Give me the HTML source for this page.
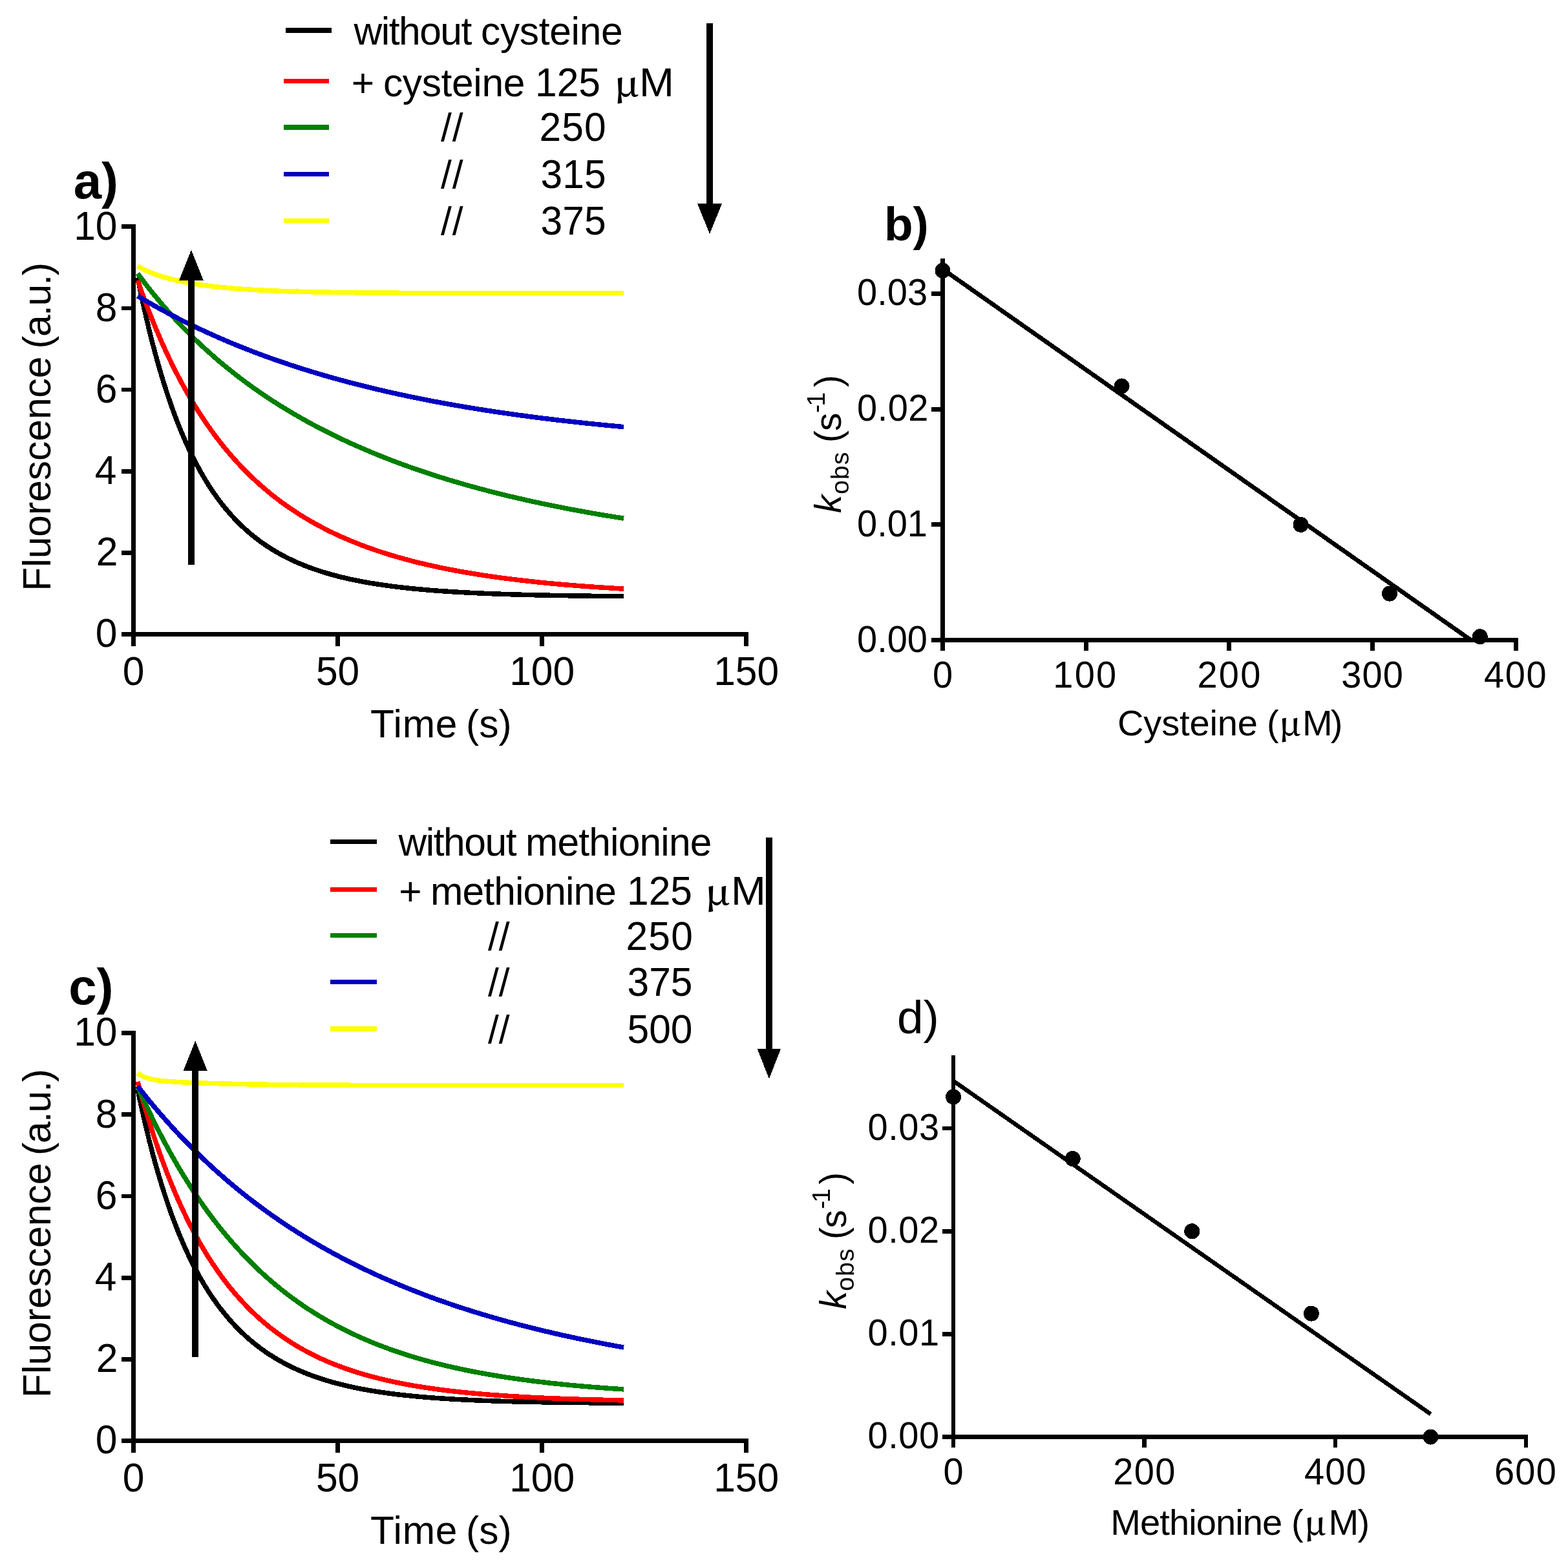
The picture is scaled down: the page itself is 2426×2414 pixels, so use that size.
<!DOCTYPE html>
<html lang="en"><head><meta charset="utf-8"><title>Fluorescence decay kinetics with cysteine and methionine</title>
<style>html,body{margin:0;padding:0;background:#fff}body{width:2426px;height:2414px;overflow:hidden}svg{display:block;shape-rendering:crispEdges}text{font-family:"Liberation Sans", sans-serif;fill:#000;white-space:pre}text.sym{font-family:"Noto Serif CJK SC","Liberation Serif",serif}</style>
</head><body>
<svg width="2426" height="2414" viewBox="0 0 2426 2414" role="img" aria-label="Fluorescence decay kinetics and observed rate constants for cysteine and methionine">
<rect width="2426" height="2414" fill="#fff"/>
<g id="panel-a">
<path d="M212.92 429.38 L213.48 432.18 L214.62 437.81 L216.18 445.37 L218.08 454.45 L220.3 464.77 L222.79 476.11 L225.56 488.29 L228.57 501.15 L231.81 514.54 L235.28 528.34 L238.96 542.43 L242.85 556.71 L246.94 571.09 L251.23 585.49 L255.7 599.82 L260.35 614.03 L265.18 628.06 L270.19 641.85 L275.36 655.37 L280.7 668.58 L286.21 681.44 L291.87 693.93 L297.69 706.03 L303.66 717.72 L309.79 729 L316.06 739.85 L322.48 750.26 L329.05 760.25 L335.75 769.8 L342.6 778.93 L349.58 787.64 L356.71 795.92 L363.96 803.81 L371.35 811.29 L378.87 818.39 L386.52 825.12 L394.3 831.48 L402.21 837.5 L410.24 843.18 L418.4 848.54 L426.68 853.59 L435.08 858.34 L443.61 862.81 L452.25 867.02 L461.01 870.96 L469.89 874.67 L478.89 878.14 L488 881.39 L497.23 884.44 L506.57 887.29 L516.02 889.95 L525.59 892.44 L535.26 894.76 L545.05 896.93 L554.94 898.95 L564.95 900.84 L575.06 902.59 L585.28 904.22 L595.6 905.74 L606.03 907.15 L616.57 908.46 L627.21 909.67 L637.95 910.8 L648.8 911.85 L659.74 912.82 L670.79 913.71 L681.94 914.54 L693.2 915.31 L704.55 916.02 L716 916.67 L727.54 917.27 L739.19 917.83 L750.93 918.34 L762.77 918.82 L774.71 919.25 L786.74 919.65 L798.87 920.02 L811.09 920.36 L823.41 920.67 L835.82 920.95 L848.33 921.21 L860.92 921.45 L873.61 921.67 L886.4 921.87 L899.27 922.05 L912.24 922.22 L925.29 922.37 L938.44 922.51 L951.67 922.64 L965 922.75" fill="none" stroke="#000" stroke-width="7.5" stroke-linejoin="round"/>
<path d="M212.92 433.94 L213.48 435.56 L214.62 438.84 L216.18 443.26 L218.08 448.62 L220.3 454.76 L222.79 461.58 L225.56 468.98 L228.57 476.9 L231.81 485.25 L235.28 493.99 L238.96 503.05 L242.85 512.38 L246.94 521.93 L251.23 531.67 L255.7 541.54 L260.35 551.51 L265.18 561.55 L270.19 571.63 L275.36 581.71 L280.7 591.77 L286.21 601.79 L291.87 611.73 L297.69 621.59 L303.66 631.34 L309.79 640.97 L316.06 650.45 L322.48 659.79 L329.05 668.96 L335.75 677.96 L342.6 686.77 L349.58 695.4 L356.71 703.83 L363.96 712.06 L371.35 720.09 L378.87 727.91 L386.52 735.52 L394.3 742.92 L402.21 750.1 L410.24 757.08 L418.4 763.85 L426.68 770.4 L435.08 776.75 L443.61 782.9 L452.25 788.84 L461.01 794.58 L469.89 800.12 L478.89 805.47 L488 810.64 L497.23 815.61 L506.57 820.41 L516.02 825.03 L525.59 829.48 L535.26 833.75 L545.05 837.87 L554.94 841.82 L564.95 845.62 L575.06 849.27 L585.28 852.78 L595.6 856.14 L606.03 859.36 L616.57 862.45 L627.21 865.42 L637.95 868.26 L648.8 870.98 L659.74 873.58 L670.79 876.07 L681.94 878.45 L693.2 880.73 L704.55 882.91 L716 884.99 L727.54 886.98 L739.19 888.88 L750.93 890.69 L762.77 892.42 L774.71 894.07 L786.74 895.64 L798.87 897.14 L811.09 898.57 L823.41 899.93 L835.82 901.23 L848.33 902.46 L860.92 903.63 L873.61 904.75 L886.4 905.81 L899.27 906.82 L912.24 907.77 L925.29 908.68 L938.44 909.55 L951.67 910.37 L965 911.14" fill="none" stroke="#FF0000" stroke-width="7.5" stroke-linejoin="round"/>
<path d="M212.92 423.23 L213.48 423.99 L214.62 425.53 L216.18 427.62 L218.08 430.17 L220.3 433.1 L222.79 436.38 L225.56 439.97 L228.57 443.83 L231.81 447.95 L235.28 452.28 L238.96 456.83 L242.85 461.55 L246.94 466.44 L251.23 471.48 L255.7 476.66 L260.35 481.95 L265.18 487.34 L270.19 492.82 L275.36 498.39 L280.7 504.02 L286.21 509.7 L291.87 515.43 L297.69 521.2 L303.66 526.99 L309.79 532.81 L316.06 538.63 L322.48 544.46 L329.05 550.29 L335.75 556.1 L342.6 561.91 L349.58 567.69 L356.71 573.44 L363.96 579.17 L371.35 584.86 L378.87 590.51 L386.52 596.11 L394.3 601.68 L402.21 607.19 L410.24 612.65 L418.4 618.06 L426.68 623.4 L435.08 628.69 L443.61 633.92 L452.25 639.09 L461.01 644.19 L469.89 649.23 L478.89 654.2 L488 659.1 L497.23 663.93 L506.57 668.69 L516.02 673.38 L525.59 678 L535.26 682.55 L545.05 687.03 L554.94 691.44 L564.95 695.77 L575.06 700.03 L585.28 704.22 L595.6 708.33 L606.03 712.38 L616.57 716.35 L627.21 720.25 L637.95 724.07 L648.8 727.83 L659.74 731.51 L670.79 735.13 L681.94 738.67 L693.2 742.14 L704.55 745.55 L716 748.88 L727.54 752.15 L739.19 755.35 L750.93 758.48 L762.77 761.55 L774.71 764.55 L786.74 767.48 L798.87 770.35 L811.09 773.16 L823.41 775.9 L835.82 778.58 L848.33 781.2 L860.92 783.76 L873.61 786.26 L886.4 788.69 L899.27 791.08 L912.24 793.4 L925.29 795.67 L938.44 797.88 L951.67 800.03 L965 802.13" fill="none" stroke="#008000" stroke-width="7.5" stroke-linejoin="round"/>
<path d="M212.92 458.1 L213.48 458.44 L214.62 459.11 L216.18 460.04 L218.08 461.16 L220.3 462.47 L222.79 463.93 L225.56 465.53 L228.57 467.27 L231.81 469.12 L235.28 471.09 L238.96 473.16 L242.85 475.33 L246.94 477.59 L251.23 479.92 L255.7 482.34 L260.35 484.82 L265.18 487.37 L270.19 489.98 L275.36 492.64 L280.7 495.35 L286.21 498.11 L291.87 500.9 L297.69 503.74 L303.66 506.6 L309.79 509.5 L316.06 512.42 L322.48 515.36 L329.05 518.31 L335.75 521.29 L342.6 524.27 L349.58 527.26 L356.71 530.26 L363.96 533.26 L371.35 536.25 L378.87 539.25 L386.52 542.24 L394.3 545.22 L402.21 548.19 L410.24 551.15 L418.4 554.1 L426.68 557.03 L435.08 559.94 L443.61 562.83 L452.25 565.7 L461.01 568.55 L469.89 571.37 L478.89 574.16 L488 576.93 L497.23 579.67 L506.57 582.38 L516.02 585.06 L525.59 587.71 L535.26 590.32 L545.05 592.9 L554.94 595.45 L564.95 597.96 L575.06 600.43 L585.28 602.87 L595.6 605.27 L606.03 607.63 L616.57 609.96 L627.21 612.24 L637.95 614.49 L648.8 616.7 L659.74 618.87 L670.79 621 L681.94 623.09 L693.2 625.14 L704.55 627.15 L716 629.13 L727.54 631.06 L739.19 632.95 L750.93 634.81 L762.77 636.63 L774.71 638.4 L786.74 640.14 L798.87 641.84 L811.09 643.5 L823.41 645.13 L835.82 646.71 L848.33 648.26 L860.92 649.78 L873.61 651.25 L886.4 652.7 L899.27 654.1 L912.24 655.47 L925.29 656.81 L938.44 658.11 L951.67 659.38 L965 660.61" fill="none" stroke="#0000C0" stroke-width="7.5" stroke-linejoin="round"/>
<path d="M212.92 411.7 L213.48 412.03 L214.62 412.7 L216.18 413.58 L218.08 414.63 L220.3 415.8 L222.79 417.06 L225.56 418.39 L228.57 419.76 L231.81 421.16 L235.28 422.58 L238.96 423.99 L242.85 425.39 L246.94 426.78 L251.23 428.14 L255.7 429.47 L260.35 430.77 L265.18 432.03 L270.19 433.25 L275.36 434.43 L280.7 435.57 L286.21 436.67 L291.87 437.72 L297.69 438.73 L303.66 439.7 L309.79 440.62 L316.06 441.5 L322.48 442.34 L329.05 443.13 L335.75 443.88 L342.6 444.59 L349.58 445.27 L356.71 445.9 L363.96 446.5 L371.35 447.06 L378.87 447.58 L386.52 448.07 L394.3 448.53 L402.21 448.96 L410.24 449.36 L418.4 449.73 L426.68 450.07 L435.08 450.39 L443.61 450.69 L452.25 450.96 L461.01 451.21 L469.89 451.44 L478.89 451.66 L488 451.85 L497.23 452.03 L506.57 452.19 L516.02 452.34 L525.59 452.48 L535.26 452.6 L545.05 452.72 L554.94 452.82 L564.95 452.91 L575.06 453 L585.28 453.07 L595.6 453.14 L606.03 453.2 L616.57 453.26 L627.21 453.31 L637.95 453.35 L648.8 453.4 L659.74 453.43 L670.79 453.46 L681.94 453.49 L693.2 453.52 L704.55 453.54 L716 453.56 L727.54 453.58 L739.19 453.6 L750.93 453.61 L762.77 453.63 L774.71 453.64 L786.74 453.65 L798.87 453.66 L811.09 453.66 L823.41 453.67 L835.82 453.68 L848.33 453.68 L860.92 453.69 L873.61 453.69 L886.4 453.7 L899.27 453.7 L912.24 453.7 L925.29 453.7 L938.44 453.71 L951.67 453.71 L965 453.71" fill="none" stroke="#FFFF00" stroke-width="7.5" stroke-linejoin="round"/>
<rect x="203.2" y="347.4" width="6.8" height="652.5" fill="#000"/>
<rect x="188.1" y="978" width="969.9" height="6.8" fill="#000"/>
<rect x="188.1" y="851.88" width="18.5" height="6.8" fill="#000"/>
<rect x="188.1" y="725.76" width="18.5" height="6.8" fill="#000"/>
<rect x="188.1" y="599.64" width="18.5" height="6.8" fill="#000"/>
<rect x="188.1" y="473.52" width="18.5" height="6.8" fill="#000"/>
<rect x="188.1" y="347.4" width="18.5" height="6.8" fill="#000"/>
<rect x="519.2" y="981.4" width="6.8" height="18.5" fill="#000"/>
<rect x="835.2" y="981.4" width="6.8" height="18.5" fill="#000"/>
<rect x="1151.2" y="981.4" width="6.8" height="18.5" fill="#000"/>
<text id="a-yt0" font-size="60.5" text-anchor="end" transform="translate(181.5 1001.2) scale(1 1.04)">0</text>
<text id="a-yt2" font-size="60.5" text-anchor="end" transform="translate(182.5 875.08) scale(1 1.04)">2</text>
<text id="a-yt4" font-size="60.5" text-anchor="end" transform="translate(180.5 748.96) scale(1 1.04)">4</text>
<text id="a-yt6" font-size="60.5" text-anchor="end" transform="translate(181.5 622.84) scale(1 1.04)">6</text>
<text id="a-yt8" font-size="60.5" text-anchor="end" transform="translate(181.5 496.72) scale(1 1.04)">8</text>
<text id="a-yt10" font-size="60.5" text-anchor="end" transform="translate(181.5 370.6) scale(1 1.04)">10</text>
<text id="a-xt0" font-size="60.5" text-anchor="middle" transform="translate(206.6 1060.2) scale(1 1.04)">0</text>
<text id="a-xt50" font-size="60.5" text-anchor="middle" transform="translate(522.6 1060.2) scale(1 1.04)">50</text>
<text id="a-xt100" font-size="60.5" text-anchor="middle" transform="translate(838.6 1060.2) scale(1 1.04)">100</text>
<text id="a-xt150" font-size="60.5" text-anchor="middle" transform="translate(1154.6 1060.2) scale(1 1.04)">150</text>
<text id="a-xtitle" font-size="60.5" textLength="134.5" lengthAdjust="spacing" x="573" y="1140.9">Time</text>
<text id="a-xtitle2" font-size="60.5" x="721.1" y="1140.9">(s)</text>
<text id="a-ytitle" font-size="60.5" transform="translate(78 914.7) rotate(-90)">Fluorescence</text>
<text id="a-ytitle2" font-size="60.5" textLength="133.72" lengthAdjust="spacing" transform="translate(78 539.7) rotate(-90)">(a.u.)</text>
<text id="a-label" font-size="78" font-weight="bold" x="113.7" y="307.2">a)</text>
<path d="M290.9 873.9 L290.9 433.5 L277.15 433.5 L295.9 386.7 L314.65 433.5 L300.9 433.5 L300.9 873.9 Z" fill="#000"/>
<path d="M1093 35.8 L1093 315.3 L1079.15 315.3 L1098 362.1 L1116.85 315.3 L1103 315.3 L1103 35.8 Z" fill="#000"/>
<rect x="442.2" y="43" width="70.8" height="8" fill="#000"/>
<rect x="439.1" y="122" width="70" height="7" fill="#FF0000"/>
<rect x="439.1" y="193.25" width="70" height="7.5" fill="#008000"/>
<rect x="439.1" y="265.9" width="70" height="7" fill="#0000C0"/>
<rect x="439.1" y="338.1" width="70" height="7" fill="#FFFF00"/>
<text id="a-leg1w0" font-size="60.5" textLength="182.8" lengthAdjust="spacing" x="547.5" y="68.7">without</text>
<text id="a-leg1w1" font-size="60.5" textLength="219.65" lengthAdjust="spacing" x="744" y="68.7">cysteine</text>
<text id="a-leg2w0" font-size="60.5" x="543.8" y="149">+</text>
<text id="a-leg2w1" font-size="60.5" textLength="219.35" lengthAdjust="spacing" x="593" y="149">cysteine</text>
<text id="a-leg2w2" font-size="60.5" transform="translate(828 149) scale(1 1.04)">125</text>
<text id="a-mu" font-size="53.5" class="sym" font-weight="600" transform="translate(950.3 149) scale(1.12 1)">µ</text>
<text id="a-M" font-size="60.5" transform="translate(989 149) scale(1.07 1.04)">M</text>
<text id="a-sl0" font-size="60.5" textLength="34.62" lengthAdjust="spacing" x="682" y="217.7">//</text>
<text id="a-num0" font-size="60.5" textLength="103.35" lengthAdjust="spacing" transform="translate(834.4 217.7) scale(1 1.04)">250</text>
<text id="a-sl1" font-size="60.5" textLength="34.62" lengthAdjust="spacing" x="682" y="290.5">//</text>
<text id="a-num1" font-size="60.5" transform="translate(836.6 290.5) scale(1 1.04)">315</text>
<text id="a-sl2" font-size="60.5" textLength="34.62" lengthAdjust="spacing" x="682" y="362.7">//</text>
<text id="a-num2" font-size="60.5" transform="translate(836.6 362.7) scale(1 1.04)">375</text>
</g>
<g id="panel-b">
<rect x="1455.05" y="400.1" width="6.9" height="606.9" fill="#000"/>
<rect x="1441.1" y="987.15" width="907.45" height="6.9" fill="#000"/>
<rect x="1441.1" y="808.45" width="17.4" height="6.9" fill="#000"/>
<rect x="1441.1" y="629.75" width="17.4" height="6.9" fill="#000"/>
<rect x="1441.1" y="451.05" width="17.4" height="6.9" fill="#000"/>
<rect x="1676.7" y="990.6" width="6.9" height="16.4" fill="#000"/>
<rect x="1898.35" y="990.6" width="6.9" height="16.4" fill="#000"/>
<rect x="2120" y="990.6" width="6.9" height="16.4" fill="#000"/>
<rect x="2341.65" y="990.6" width="6.9" height="16.4" fill="#000"/>
<clipPath id="clip-b"><rect x="0" y="0" width="2426" height="994.05"/></clipPath>
<line clip-path="url(#clip-b)" x1="1458.5" y1="416.44" x2="2289.69" y2="1000.25" stroke="#000" stroke-width="6.8"/>
<circle cx="1458.5" cy="418.76" r="12" fill="#000"/>
<circle cx="1735.56" cy="597.46" r="12" fill="#000"/>
<circle cx="2012.62" cy="811.9" r="12" fill="#000"/>
<circle cx="2150.05" cy="918.58" r="12" fill="#000"/>
<circle cx="2289.69" cy="985.24" r="12" fill="#000"/>
<text id="b-yt0" font-size="56" transform="translate(1326 1008.5) scale(1 1.025)">0.00</text>
<text id="b-yt1" font-size="56" transform="translate(1326 829.8) scale(1 1.025)">0.01</text>
<text id="b-yt2" font-size="56" textLength="110.47" lengthAdjust="spacing" transform="translate(1326 651.1) scale(1 1.025)">0.02</text>
<text id="b-yt3" font-size="56" textLength="109.17" lengthAdjust="spacing" transform="translate(1326 472.4) scale(1 1.025)">0.03</text>
<text id="b-xt0" font-size="56" text-anchor="middle" transform="translate(1458.5 1063.7) scale(1 1.025)">0</text>
<text id="b-xt100" font-size="56" text-anchor="middle" textLength="97.92" lengthAdjust="spacing" transform="translate(1678.25 1063.7) scale(1 1.025)">100</text>
<text id="b-xt200" font-size="56" text-anchor="middle" textLength="97.92" lengthAdjust="spacing" transform="translate(1901.4 1063.7) scale(1 1.025)">200</text>
<text id="b-xt300" font-size="56" text-anchor="middle" textLength="95.52" lengthAdjust="spacing" transform="translate(2123.05 1063.7) scale(1 1.025)">300</text>
<text id="b-xt400" font-size="56" text-anchor="middle" textLength="96.62" lengthAdjust="spacing" transform="translate(2344.3 1063.7) scale(1 1.025)">400</text>
<text id="b-xtitle" font-size="56" textLength="216.97" lengthAdjust="spacing" x="1729" y="1138.3">Cysteine</text>
<text id="b-xtitle1" font-size="56" x="1960" y="1138.3">(</text>
<text id="b-mu" font-size="49.5" class="sym" font-weight="600" transform="translate(1979 1138.3) scale(1.06 1)">µ</text>
<text id="b-xtitle2" font-size="56" textLength="62.6" lengthAdjust="spacing" x="2014.9" y="1138.3">M)</text>
<text id="b-k" font-size="56.5" font-style="italic" transform="translate(1301.2 794) rotate(-90)">k</text>
<text id="b-obs" font-size="39.5" textLength="65.49" lengthAdjust="spacing" transform="translate(1313 765) rotate(-90)">obs</text>
<text id="b-par" font-size="56.5" textLength="46.08" lengthAdjust="spacing" transform="translate(1301.2 684.9) rotate(-90)">(s</text>
<text id="b-sup" font-size="39.5" textLength="32.22" lengthAdjust="spacing" transform="translate(1275.9 639) rotate(-90)">-1</text>
<text id="b-par2" font-size="56.5" transform="translate(1301.2 599.1) rotate(-90)">)</text>
<text id="b-label" font-size="73" font-weight="bold" x="1368" y="372">b)</text>
</g>
<g id="panel-c">
<path d="M212.92 1685.2 L213.48 1687.93 L214.62 1693.43 L216.18 1700.82 L218.08 1709.68 L220.3 1719.75 L222.79 1730.81 L225.56 1742.68 L228.57 1755.2 L231.81 1768.23 L235.28 1781.66 L238.96 1795.36 L242.85 1809.25 L246.94 1823.23 L251.23 1837.23 L255.7 1851.17 L260.35 1864.99 L265.18 1878.64 L270.19 1892.08 L275.36 1905.26 L280.7 1918.15 L286.21 1930.72 L291.87 1942.94 L297.69 1954.8 L303.66 1966.29 L309.79 1977.38 L316.06 1988.08 L322.48 1998.38 L329.05 2008.27 L335.75 2017.76 L342.6 2026.84 L349.58 2035.53 L356.71 2043.82 L363.96 2051.73 L371.35 2059.25 L378.87 2066.41 L386.52 2073.2 L394.3 2079.65 L402.21 2085.75 L410.24 2091.53 L418.4 2096.98 L426.68 2102.13 L435.08 2106.99 L443.61 2111.56 L452.25 2115.86 L461.01 2119.9 L469.89 2123.7 L478.89 2127.25 L488 2130.59 L497.23 2133.7 L506.57 2136.62 L516.02 2139.34 L525.59 2141.87 L535.26 2144.24 L545.05 2146.44 L554.94 2148.48 L564.95 2150.38 L575.06 2152.15 L585.28 2153.78 L595.6 2155.3 L606.03 2156.7 L616.57 2157.99 L627.21 2159.19 L637.95 2160.29 L648.8 2161.31 L659.74 2162.24 L670.79 2163.1 L681.94 2163.9 L693.2 2164.62 L704.55 2165.29 L716 2165.9 L727.54 2166.46 L739.19 2166.97 L750.93 2167.44 L762.77 2167.86 L774.71 2168.25 L786.74 2168.61 L798.87 2168.93 L811.09 2169.22 L823.41 2169.49 L835.82 2169.73 L848.33 2169.95 L860.92 2170.15 L873.61 2170.33 L886.4 2170.5 L899.27 2170.64 L912.24 2170.78 L925.29 2170.9 L938.44 2171.01 L951.67 2171.11 L965 2171.19" fill="none" stroke="#000" stroke-width="7.5" stroke-linejoin="round"/>
<path d="M212.92 1673.68 L213.48 1675.76 L214.62 1679.96 L216.18 1685.62 L218.08 1692.45 L220.3 1700.26 L222.79 1708.9 L225.56 1718.26 L228.57 1728.22 L231.81 1738.68 L235.28 1749.58 L238.96 1760.82 L242.85 1772.34 L246.94 1784.07 L251.23 1795.95 L255.7 1807.94 L260.35 1819.97 L265.18 1832.01 L270.19 1844.02 L275.36 1855.95 L280.7 1867.78 L286.21 1879.47 L291.87 1891 L297.69 1902.34 L303.66 1913.48 L309.79 1924.38 L316.06 1935.05 L322.48 1945.46 L329.05 1955.6 L335.75 1965.47 L342.6 1975.05 L349.58 1984.34 L356.71 1993.34 L363.96 2002.05 L371.35 2010.45 L378.87 2018.56 L386.52 2026.37 L394.3 2033.88 L402.21 2041.11 L410.24 2048.04 L418.4 2054.69 L426.68 2061.06 L435.08 2067.15 L443.61 2072.97 L452.25 2078.53 L461.01 2083.84 L469.89 2088.9 L478.89 2093.71 L488 2098.29 L497.23 2102.64 L506.57 2106.77 L516.02 2110.69 L525.59 2114.41 L535.26 2117.93 L545.05 2121.26 L554.94 2124.4 L564.95 2127.38 L575.06 2130.18 L585.28 2132.82 L595.6 2135.32 L606.03 2137.66 L616.57 2139.87 L627.21 2141.94 L637.95 2143.89 L648.8 2145.72 L659.74 2147.43 L670.79 2149.04 L681.94 2150.54 L693.2 2151.95 L704.55 2153.26 L716 2154.49 L727.54 2155.63 L739.19 2156.7 L750.93 2157.7 L762.77 2158.63 L774.71 2159.49 L786.74 2160.29 L798.87 2161.04 L811.09 2161.73 L823.41 2162.37 L835.82 2162.97 L848.33 2163.52 L860.92 2164.03 L873.61 2164.51 L886.4 2164.94 L899.27 2165.35 L912.24 2165.72 L925.29 2166.07 L938.44 2166.38 L951.67 2166.68 L965 2166.95" fill="none" stroke="#FF0000" stroke-width="7.5" stroke-linejoin="round"/>
<path d="M212.92 1680.91 L213.48 1682.19 L214.62 1684.79 L216.18 1688.31 L218.08 1692.59 L220.3 1697.51 L222.79 1703.01 L225.56 1709 L228.57 1715.45 L231.81 1722.3 L235.28 1729.5 L238.96 1737.03 L242.85 1744.83 L246.94 1752.88 L251.23 1761.14 L255.7 1769.59 L260.35 1778.2 L265.18 1786.93 L270.19 1795.77 L275.36 1804.69 L280.7 1813.68 L286.21 1822.7 L291.87 1831.73 L297.69 1840.77 L303.66 1849.79 L309.79 1858.78 L316.06 1867.72 L322.48 1876.6 L329.05 1885.4 L335.75 1894.11 L342.6 1902.73 L349.58 1911.23 L356.71 1919.62 L363.96 1927.87 L371.35 1935.99 L378.87 1943.97 L386.52 1951.8 L394.3 1959.48 L402.21 1966.99 L410.24 1974.34 L418.4 1981.53 L426.68 1988.54 L435.08 1995.38 L443.61 2002.05 L452.25 2008.53 L461.01 2014.85 L469.89 2020.98 L478.89 2026.94 L488 2032.72 L497.23 2038.32 L506.57 2043.75 L516.02 2049 L525.59 2054.08 L535.26 2059 L545.05 2063.74 L554.94 2068.31 L564.95 2072.73 L575.06 2076.98 L585.28 2081.08 L595.6 2085.02 L606.03 2088.81 L616.57 2092.45 L627.21 2095.95 L637.95 2099.31 L648.8 2102.53 L659.74 2105.61 L670.79 2108.57 L681.94 2111.4 L693.2 2114.11 L704.55 2116.7 L716 2119.17 L727.54 2121.54 L739.19 2123.79 L750.93 2125.94 L762.77 2127.99 L774.71 2129.95 L786.74 2131.81 L798.87 2133.58 L811.09 2135.27 L823.41 2136.87 L835.82 2138.39 L848.33 2139.84 L860.92 2141.21 L873.61 2142.51 L886.4 2143.75 L899.27 2144.92 L912.24 2146.02 L925.29 2147.07 L938.44 2148.06 L951.67 2149 L965 2149.89" fill="none" stroke="#008000" stroke-width="7.5" stroke-linejoin="round"/>
<path d="M212.92 1680.86 L213.48 1681.58 L214.62 1683.04 L216.18 1685.02 L218.08 1687.43 L220.3 1690.22 L222.79 1693.34 L225.56 1696.76 L228.57 1700.47 L231.81 1704.42 L235.28 1708.6 L238.96 1713 L242.85 1717.59 L246.94 1722.36 L251.23 1727.29 L255.7 1732.37 L260.35 1737.59 L265.18 1742.94 L270.19 1748.39 L275.36 1753.95 L280.7 1759.6 L286.21 1765.33 L291.87 1771.13 L297.69 1776.99 L303.66 1782.9 L309.79 1788.86 L316.06 1794.86 L322.48 1800.88 L329.05 1806.93 L335.75 1812.99 L342.6 1819.05 L349.58 1825.12 L356.71 1831.19 L363.96 1837.24 L371.35 1843.28 L378.87 1849.3 L386.52 1855.3 L394.3 1861.26 L402.21 1867.19 L410.24 1873.08 L418.4 1878.93 L426.68 1884.74 L435.08 1890.49 L443.61 1896.2 L452.25 1901.85 L461.01 1907.44 L469.89 1912.97 L478.89 1918.44 L488 1923.85 L497.23 1929.19 L506.57 1934.46 L516.02 1939.67 L525.59 1944.8 L535.26 1949.87 L545.05 1954.86 L554.94 1959.77 L564.95 1964.61 L575.06 1969.38 L585.28 1974.07 L595.6 1978.69 L606.03 1983.22 L616.57 1987.68 L627.21 1992.07 L637.95 1996.37 L648.8 2000.6 L659.74 2004.76 L670.79 2008.83 L681.94 2012.83 L693.2 2016.75 L704.55 2020.6 L716 2024.37 L727.54 2028.07 L739.19 2031.69 L750.93 2035.24 L762.77 2038.72 L774.71 2042.12 L786.74 2045.46 L798.87 2048.72 L811.09 2051.91 L823.41 2055.03 L835.82 2058.08 L848.33 2061.07 L860.92 2063.99 L873.61 2066.84 L886.4 2069.63 L899.27 2072.36 L912.24 2075.02 L925.29 2077.62 L938.44 2080.16 L951.67 2082.64 L965 2085.06" fill="none" stroke="#0000C0" stroke-width="7.5" stroke-linejoin="round"/>
<path d="M212.92 1660.42 L213.48 1660.87 L214.62 1661.74 L216.18 1662.82 L218.08 1664 L220.3 1665.2 L222.79 1666.38 L225.56 1667.48 L228.57 1668.5 L231.81 1669.41 L235.28 1670.22 L238.96 1670.93 L242.85 1671.56 L246.94 1672.11 L251.23 1672.6 L255.7 1673.03 L260.35 1673.42 L265.18 1673.77 L270.19 1674.1 L275.36 1674.4 L280.7 1674.68 L286.21 1674.95 L291.87 1675.2 L297.69 1675.44 L303.66 1675.68 L309.79 1675.9 L316.06 1676.12 L322.48 1676.32 L329.05 1676.52 L335.75 1676.71 L342.6 1676.89 L349.58 1677.07 L356.71 1677.24 L363.96 1677.39 L371.35 1677.55 L378.87 1677.69 L386.52 1677.83 L394.3 1677.96 L402.21 1678.08 L410.24 1678.2 L418.4 1678.3 L426.68 1678.41 L435.08 1678.5 L443.61 1678.6 L452.25 1678.68 L461.01 1678.76 L469.89 1678.84 L478.89 1678.91 L488 1678.97 L497.23 1679.03 L506.57 1679.09 L516.02 1679.14 L525.59 1679.19 L535.26 1679.23 L545.05 1679.27 L554.94 1679.31 L564.95 1679.35 L575.06 1679.38 L585.28 1679.41 L595.6 1679.44 L606.03 1679.47 L616.57 1679.49 L627.21 1679.51 L637.95 1679.53 L648.8 1679.55 L659.74 1679.56 L670.79 1679.58 L681.94 1679.59 L693.2 1679.61 L704.55 1679.62 L716 1679.63 L727.54 1679.64 L739.19 1679.65 L750.93 1679.65 L762.77 1679.66 L774.71 1679.67 L786.74 1679.67 L798.87 1679.68 L811.09 1679.68 L823.41 1679.69 L835.82 1679.69 L848.33 1679.69 L860.92 1679.7 L873.61 1679.7 L886.4 1679.7 L899.27 1679.7 L912.24 1679.71 L925.29 1679.71 L938.44 1679.71 L951.67 1679.71 L965 1679.71" fill="none" stroke="#FFFF00" stroke-width="7.5" stroke-linejoin="round"/>
<rect x="203.2" y="1595.2" width="6.8" height="652.9" fill="#000"/>
<rect x="188.1" y="2226.2" width="969.9" height="6.8" fill="#000"/>
<rect x="188.1" y="2100" width="18.5" height="6.8" fill="#000"/>
<rect x="188.1" y="1973.8" width="18.5" height="6.8" fill="#000"/>
<rect x="188.1" y="1847.6" width="18.5" height="6.8" fill="#000"/>
<rect x="188.1" y="1721.4" width="18.5" height="6.8" fill="#000"/>
<rect x="188.1" y="1595.2" width="18.5" height="6.8" fill="#000"/>
<rect x="519.2" y="2229.6" width="6.8" height="18.5" fill="#000"/>
<rect x="835.2" y="2229.6" width="6.8" height="18.5" fill="#000"/>
<rect x="1151.2" y="2229.6" width="6.8" height="18.5" fill="#000"/>
<text id="c-yt0" font-size="60.5" text-anchor="end" transform="translate(181.5 2249.4) scale(1 1.04)">0</text>
<text id="c-yt2" font-size="60.5" text-anchor="end" transform="translate(182.5 2123.2) scale(1 1.04)">2</text>
<text id="c-yt4" font-size="60.5" text-anchor="end" transform="translate(180.5 1997) scale(1 1.04)">4</text>
<text id="c-yt6" font-size="60.5" text-anchor="end" transform="translate(181.5 1870.8) scale(1 1.04)">6</text>
<text id="c-yt8" font-size="60.5" text-anchor="end" transform="translate(181.5 1744.6) scale(1 1.04)">8</text>
<text id="c-yt10" font-size="60.5" text-anchor="end" transform="translate(181.5 1618.4) scale(1 1.04)">10</text>
<text id="c-xt0" font-size="60.5" text-anchor="middle" transform="translate(206.6 2308.4) scale(1 1.04)">0</text>
<text id="c-xt50" font-size="60.5" text-anchor="middle" transform="translate(522.6 2308.4) scale(1 1.04)">50</text>
<text id="c-xt100" font-size="60.5" text-anchor="middle" transform="translate(838.6 2308.4) scale(1 1.04)">100</text>
<text id="c-xt150" font-size="60.5" text-anchor="middle" transform="translate(1154.6 2308.4) scale(1 1.04)">150</text>
<text id="c-xtitle" font-size="60.5" textLength="134.5" lengthAdjust="spacing" x="573" y="2389.1">Time</text>
<text id="c-xtitle2" font-size="60.5" x="721.1" y="2389.1">(s)</text>
<text id="c-ytitle" font-size="60.5" transform="translate(78 2162.9) rotate(-90)">Fluorescence</text>
<text id="c-ytitle2" font-size="60.5" textLength="133.72" lengthAdjust="spacing" transform="translate(78 1787.9) rotate(-90)">(a.u.)</text>
<text id="c-label" font-size="78" font-weight="bold" x="106.2" y="1554">c)</text>
<path d="M297.2 2099.7 L297.2 1656.7 L283.8 1656.7 L302.2 1610.3 L320.6 1656.7 L307.2 1656.7 L307.2 2099.7 Z" fill="#000"/>
<path d="M1184.9 1295.8 L1184.9 1623.2 L1171.8 1623.2 L1189.9 1669.4 L1208 1623.2 L1194.9 1623.2 L1194.9 1295.8 Z" fill="#000"/>
<rect x="511.2" y="1298.85" width="71.8" height="7.3" fill="#000"/>
<rect x="511.2" y="1373.1" width="71.8" height="7" fill="#FF0000"/>
<rect x="511.2" y="1444" width="71.8" height="7" fill="#008000"/>
<rect x="511.2" y="1515.9" width="71.8" height="7" fill="#0000C0"/>
<rect x="511.2" y="1588.15" width="71.8" height="7.7" fill="#FFFF00"/>
<text id="c-leg1w0" font-size="60.5" textLength="183" lengthAdjust="spacing" x="616.5" y="1323.9">without</text>
<text id="c-leg1w1" font-size="60.5" textLength="288.38" lengthAdjust="spacing" x="813" y="1323.9">methionine</text>
<text id="c-leg2w0" font-size="60.5" x="617.3" y="1399.8">+</text>
<text id="c-leg2w1" font-size="60.5" textLength="287.98" lengthAdjust="spacing" x="666" y="1399.8">methionine</text>
<text id="c-leg2w2" font-size="60.5" transform="translate(970 1399.8) scale(1 1.04)">125</text>
<text id="c-mu" font-size="53.5" class="sym" font-weight="600" transform="translate(1091.1 1399.8) scale(1.12 1)">µ</text>
<text id="c-M" font-size="60.5" transform="translate(1131 1399.8) scale(1.07 1.04)">M</text>
<text id="c-sl0" font-size="60.5" textLength="33.42" lengthAdjust="spacing" x="755.1" y="1469.6">//</text>
<text id="c-num0" font-size="60.5" textLength="103.35" lengthAdjust="spacing" transform="translate(968.5 1469.6) scale(1 1.04)">250</text>
<text id="c-sl1" font-size="60.5" textLength="33.42" lengthAdjust="spacing" x="755.1" y="1541.4">//</text>
<text id="c-num1" font-size="60.5" transform="translate(970.5 1541.4) scale(1 1.04)">375</text>
<text id="c-sl2" font-size="60.5" textLength="33.42" lengthAdjust="spacing" x="755.1" y="1613.8">//</text>
<text id="c-num2" font-size="60.5" transform="translate(970.5 1613.8) scale(1 1.04)">500</text>
</g>
<g id="panel-d">
<rect x="1471.9" y="1632.8" width="6.4" height="607.3" fill="#000"/>
<rect x="1458.1" y="2220.3" width="906.28" height="6.4" fill="#000"/>
<rect x="1458.1" y="2061.2" width="17" height="6.4" fill="#000"/>
<rect x="1458.1" y="1902.1" width="17" height="6.4" fill="#000"/>
<rect x="1458.1" y="1743" width="17" height="6.4" fill="#000"/>
<rect x="1767.26" y="2223.5" width="6.4" height="16.6" fill="#000"/>
<rect x="2062.62" y="2223.5" width="6.4" height="16.6" fill="#000"/>
<rect x="2357.98" y="2223.5" width="6.4" height="16.6" fill="#000"/>
<clipPath id="clip-d"><rect x="0" y="0" width="2426" height="2226.7"/></clipPath>
<line clip-path="url(#clip-d)" x1="1475.1" y1="1672.7" x2="2213.5" y2="2188.18" stroke="#000" stroke-width="6.5"/>
<circle cx="1475.1" cy="1697.36" r="12" fill="#000"/>
<circle cx="1659.7" cy="1792.98" r="12" fill="#000"/>
<circle cx="1844.3" cy="1905.3" r="12" fill="#000"/>
<circle cx="2028.9" cy="2032.58" r="12" fill="#000"/>
<circle cx="2213.5" cy="2223.5" r="12" fill="#000"/>
<text id="d-yt0" font-size="56" textLength="110.57" lengthAdjust="spacing" transform="translate(1342.5 2241.2) scale(1 1.025)">0.00</text>
<text id="d-yt1" font-size="56" textLength="110.57" lengthAdjust="spacing" transform="translate(1342.5 2082.1) scale(1 1.025)">0.01</text>
<text id="d-yt2" font-size="56" textLength="110.57" lengthAdjust="spacing" transform="translate(1342.5 1923) scale(1 1.025)">0.02</text>
<text id="d-yt3" font-size="56" textLength="110.57" lengthAdjust="spacing" transform="translate(1342.5 1763.9) scale(1 1.025)">0.03</text>
<text id="d-xt0" font-size="56" text-anchor="middle" transform="translate(1475.1 2296.5) scale(1 1.025)">0</text>
<text id="d-xt200" font-size="56" text-anchor="middle" textLength="96.12" lengthAdjust="spacing" transform="translate(1770.26 2296.5) scale(1 1.025)">200</text>
<text id="d-xt400" font-size="56" text-anchor="middle" textLength="95.62" lengthAdjust="spacing" transform="translate(2065.82 2296.5) scale(1 1.025)">400</text>
<text id="d-xt600" font-size="56" text-anchor="middle" textLength="95.82" lengthAdjust="spacing" transform="translate(2359.88 2296.5) scale(1 1.025)">600</text>
<text id="d-xtitle" font-size="56" textLength="265.77" lengthAdjust="spacing" x="1718.3" y="2374.5">Methionine</text>
<text id="d-xtitle1" font-size="56" x="1998" y="2374.5">(</text>
<text id="d-mu" font-size="49.5" class="sym" font-weight="600" transform="translate(2018 2374.5) scale(1.06 1)">µ</text>
<text id="d-xtitle2" font-size="56" textLength="63.6" lengthAdjust="spacing" x="2055.6" y="2374.5">M)</text>
<text id="d-k" font-size="56.5" font-style="italic" transform="translate(1308.9 2026) rotate(-90)">k</text>
<text id="d-obs" font-size="39.5" textLength="65.89" lengthAdjust="spacing" transform="translate(1321.2 1998) rotate(-90)">obs</text>
<text id="d-par" font-size="56.5" textLength="45.78" lengthAdjust="spacing" transform="translate(1308.9 1918) rotate(-90)">(s</text>
<text id="d-sup" font-size="39.5" textLength="32.03" lengthAdjust="spacing" transform="translate(1284 1871) rotate(-90)">-1</text>
<text id="d-par2" font-size="56.5" transform="translate(1308.9 1832.8) rotate(-90)">)</text>
<text id="d-label" font-size="73" x="1388" y="1598.8">d)</text>
</g>
</svg></body></html>
